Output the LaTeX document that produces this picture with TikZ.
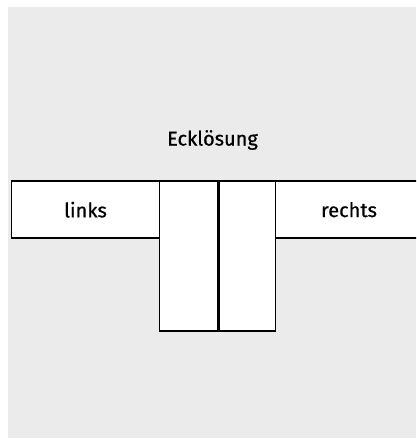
\documentclass[tikz,border=0pt]{standalone}
\usepackage{fontspec}
\setmainfont{Fira Sans}
\newfontfamily\lblfont{Fira Sans}[FakeBold=0.7]
\definecolor{bggray}{RGB}{235,235,235}
\begin{document}
\begin{tikzpicture}[x=1pt,y=1pt,
  box/.style={draw=black,fill=white,line width=1.6pt,rectangle,inner sep=0pt,anchor=south west},
  lbl/.style={font=\lblfont\fontsize{20}{22}\selectfont,text=black}]
\useasboundingbox (0,0) rectangle (416,439);
\fill[white] (0,0) rectangle (416,439);
\fill[bggray] (8,1) rectangle (416,432);
\begin{scope}
\clip (0,0) rectangle (416,439);
\node[box,minimum width=148pt,minimum height=57pt] (links) at (10.7,200) {};
\node[box,minimum width=58pt,minimum height=150pt] (ml) at (158.7,107) {};
\node[box,minimum width=58pt,minimum height=150pt] (mr) at (216.7,107) {};
\node[box,minimum width=147pt,minimum height=57pt] (rechts) at (274.7,200) {};
\draw[line width=3pt] (ml.north east) -- (ml.south east);
\end{scope}
\node[lbl] at (links.center) {links};
\node[lbl] at (rechts.center) {rechts};
\node[lbl] (title) at (212.5,299) {Ecklösung};
\end{tikzpicture}
\end{document}
